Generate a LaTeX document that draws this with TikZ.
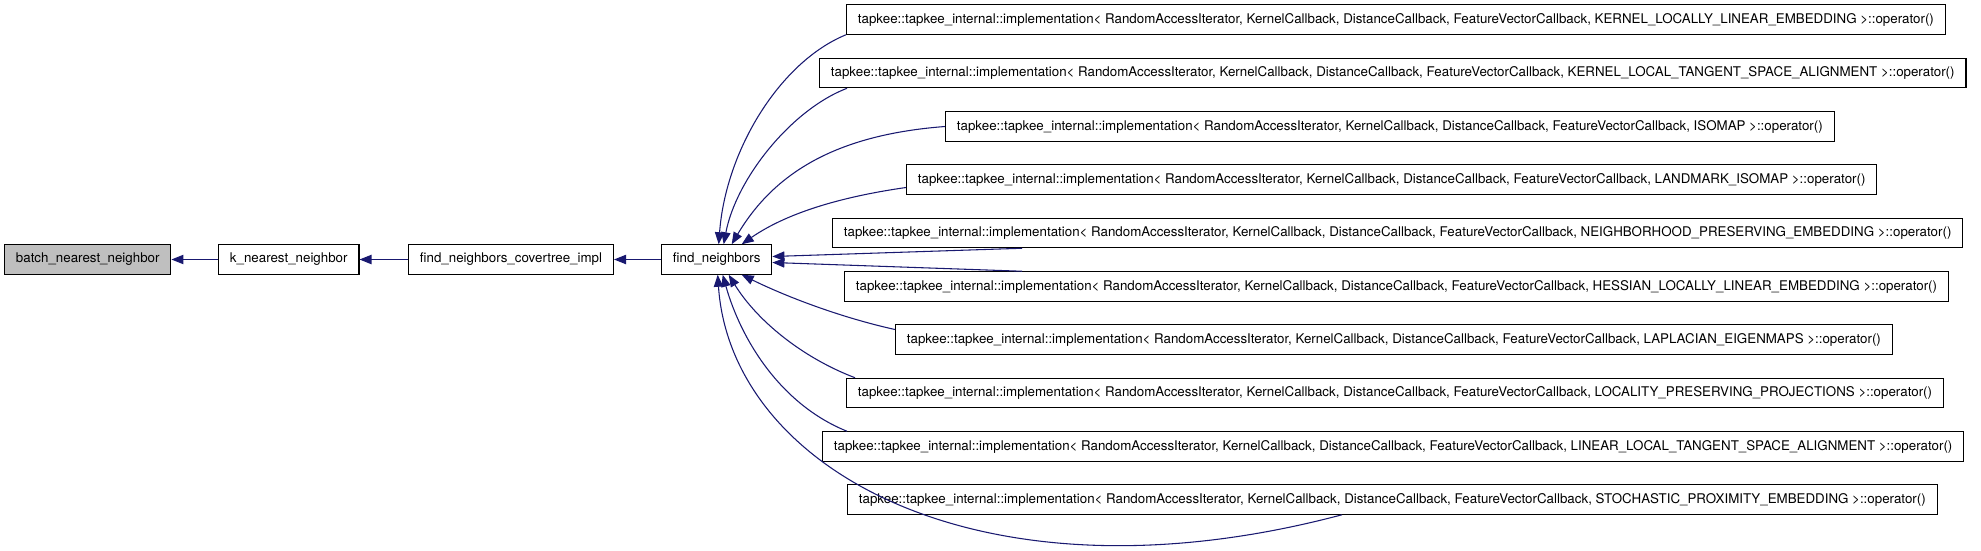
\documentclass[tikz,border=0pt]{standalone}
\usepackage{fontspec}
\setmainfont{TeX Gyre Heros}
\usepackage{tikz}
\usetikzlibrary{arrows.meta,positioning,calc}

\definecolor{edgeblue}{HTML}{191970}
\definecolor{rootgray}{HTML}{BFBFBF}
\newcommand{\implop}[1]{tapkee::tapkee\_internal::implementation< RandomAccessIterator, KernelCallback, DistanceCallback, FeatureVectorCallback, #1 >::operator()}

\begin{document}
\begin{tikzpicture}[
  x=0.75pt, y=-0.75pt,
  font=\fontsize{10}{12}\selectfont,
  fnbox/.style={draw, fill=white, line width=0.9pt, inner xsep=8.5pt, inner ysep=0pt, minimum height=22pt, anchor=west},
  rootbox/.style={fnbox, fill=rootgray},
  arr/.style={-{Triangle[length=9pt,width=7pt]}, edgeblue, line width=0.8pt}
]
\useasboundingbox (0,0) rectangle (1981,550);
% call chain
\node[rootbox] (batch) at (4,259.5) {batch\_nearest\_neighbor};
\node[fnbox] (knn) at (218,259.5) {k\_nearest\_neighbor};
\node[fnbox] (cov) at (408,259.5) {find\_neighbors\_covertree\_impl};
\node[fnbox] (fn) at (661,259.5) {find\_neighbors};
% callers of find_neighbors
\node[fnbox] (r1) at (846,19.5) {\implop{KERNEL\_LOCALLY\_LINEAR\_EMBEDDING}};
\node[fnbox] (r2) at (819,73) {\implop{KERNEL\_LOCAL\_TANGENT\_SPACE\_ALIGNMENT}};
\node[fnbox] (r3) at (945,126.5) {\implop{ISOMAP}};
\node[fnbox] (r4) at (906,179.5) {\implop{LANDMARK\_ISOMAP}};
\node[fnbox] (r5) at (832,233) {\implop{NEIGHBORHOOD\_PRESERVING\_EMBEDDING}};
\node[fnbox] (r6) at (844,286.5) {\implop{HESSIAN\_LOCALLY\_LINEAR\_EMBEDDING}};
\node[fnbox] (r7) at (895,339.5) {\implop{LAPLACIAN\_EIGENMAPS}};
\node[fnbox] (r8) at (846,393) {\implop{LOCALITY\_PRESERVING\_PROJECTIONS}};
\node[fnbox] (r9) at (822,446.5) {\implop{LINEAR\_LOCAL\_TANGENT\_SPACE\_ALIGNMENT}};
\node[fnbox] (r10) at (847,499.5) {\implop{STOCHASTIC\_PROXIMITY\_EMBEDDING}};
% arrows
\foreach \a/\b in {knn/batch,cov/knn,fn/cov} \draw[arr] (\a.west) -- (\b.east);
\draw[arr] (r1.south west) .. controls +(-66,27) and +(7,-94) .. ($(fn.north)+(2,0)$);
\draw[arr] ($(r2.south west)+(28,0)$) .. controls +(-57,22) and +(12,-64) .. ($(fn.north)+(7,0)$);
\draw[arr] (r3.west) .. controls +(-105,8) and +(44,-74) .. ($(fn.north)+(15,0)$);
\draw[arr] ($(r4.west)+(0,8)$) .. controls +(-56,8) and +(49,-34) .. ($(fn.north)+(25,0)$);
\draw[arr] ($(r5.south west)+(190,0)$) -- ($(fn.east)+(0,-3)$);
\draw[arr] ($(r6.north west)+(178,0)$) -- ($(fn.east)+(0,3)$);
\draw[arr] ($(r7.west)+(0,-10)$) .. controls +(-50,-11) and +(49,24) .. ($(fn.south)+(25,0)$);
\draw[arr] ($(r8.north west)+(9,0)$) .. controls +(-55,-21) and +(27,44) .. ($(fn.south)+(12,0)$);
\draw[arr] ($(r9.north west)+(25,0)$) .. controls +(-67,-27) and +(18,64) .. ($(fn.south)+(6,0)$);
\draw[arr] ($(r10.south west)+(495,0)$) .. controls +(-362,96) and +(13,194) .. ($(fn.south)+(1,0)$);
\end{tikzpicture}
\end{document}
